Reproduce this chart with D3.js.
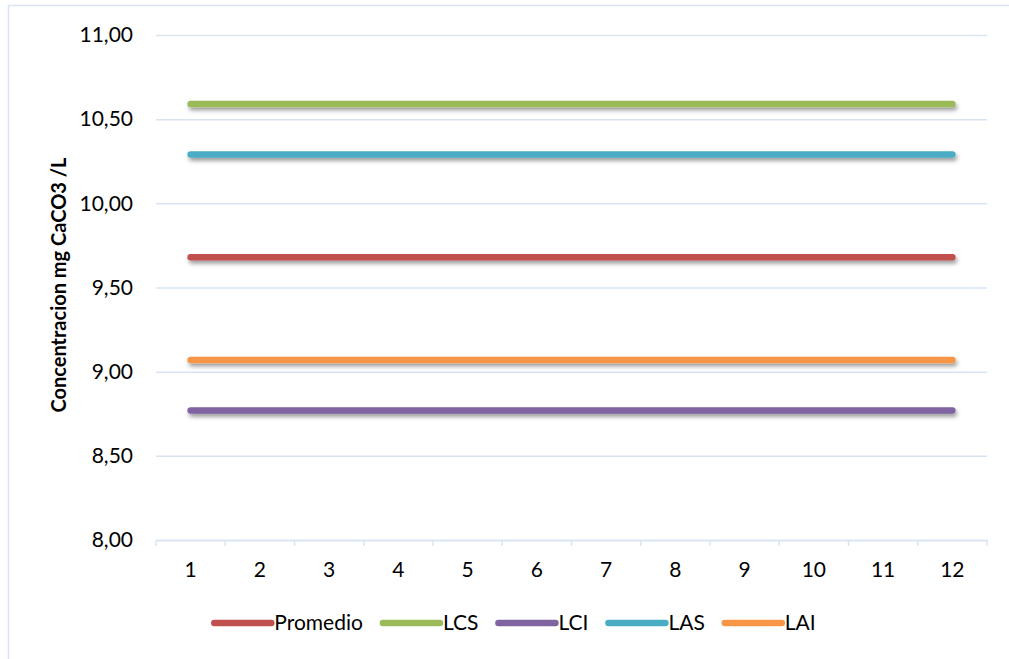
<!DOCTYPE html>
<html>
<head>
<meta charset="utf-8">
<script src="https://cdn.jsdelivr.net/npm/d3@7"></script>
<style>
  html, body { margin: 0; padding: 0; background: #fff; }
  svg { display: block; }
  text { font-family: Lato, "Open Sans", sans-serif; fill: #000; }
</style>
</head>
<body>
<svg id="chart" width="1009" height="659"></svg>
<script>
// Control-chart limits for each of the 12 samples
const categories = [1, 2, 3, 4, 5, 6, 7, 8, 9, 10, 11, 12];
const promedio = [9.68, 9.68, 9.68, 9.68, 9.68, 9.68, 9.68, 9.68, 9.68, 9.68, 9.68, 9.68];
const lcs      = [10.59, 10.59, 10.59, 10.59, 10.59, 10.59, 10.59, 10.59, 10.59, 10.59, 10.59, 10.59];
const lci      = [8.77, 8.77, 8.77, 8.77, 8.77, 8.77, 8.77, 8.77, 8.77, 8.77, 8.77, 8.77];
const las      = [10.29, 10.29, 10.29, 10.29, 10.29, 10.29, 10.29, 10.29, 10.29, 10.29, 10.29, 10.29];
const lai      = [9.07, 9.07, 9.07, 9.07, 9.07, 9.07, 9.07, 9.07, 9.07, 9.07, 9.07, 9.07];
const yTicks   = [8.0, 8.5, 9.0, 9.5, 10.0, 10.5, 11.0];
const seriesNames  = ["Promedio", "LCS", "LCI", "LAS", "LAI"];
const seriesColors = ["#c0504d", "#9bbb59", "#8064a2", "#4bacc6", "#f79646"];
const yTitle = "Concentracion mg CaCO3 /L";

const series = [promedio, lcs, lci, las, lai].map((values, i) => ({
  name: seriesNames[i], color: seriesColors[i], values
}));

const svg = d3.select("#chart");
const W = 1009, H = 659;
const plot = { left: 156, right: 987, top: 35, bottom: 540 };
const gridColor = "#d9e4f3";

// outer chart frame
svg.append("rect")
  .attr("x", 8.5).attr("y", 5.5)
  .attr("width", W + 10).attr("height", H + 10)
  .attr("fill", "none").attr("stroke", gridColor).attr("stroke-width", 1.5);

// soft drop shadow under the series lines (user-space region: the lines are flat)
const defs = svg.append("defs");
defs.append("filter").attr("id", "shadow")
  .attr("filterUnits", "userSpaceOnUse")
  .attr("x", 0).attr("y", 0).attr("width", W).attr("height", H)
  .append("feDropShadow")
  .attr("dx", 1.5).attr("dy", 3).attr("stdDeviation", 2)
  .attr("flood-color", "#000").attr("flood-opacity", 0.4);

const x = d3.scaleBand().domain(categories).range([plot.left, plot.right]);
const y = d3.scaleLinear().domain([8, 11]).range([plot.bottom, plot.top]);
const fmt = v => d3.format(".2f")(v).replace(".", ",");

// horizontal gridlines + y tick labels
const yAxis = d3.axisLeft(y).tickValues(yTicks).tickFormat(fmt)
  .tickSize(-(plot.right - plot.left)).tickPadding(23);
const gy = svg.append("g").attr("transform", `translate(${plot.left},0)`).call(yAxis);
gy.select(".domain").remove();
gy.selectAll(".tick line").attr("stroke", gridColor).attr("stroke-width", 1.5);
gy.selectAll(".tick text").style("font-size", "21px").attr("fill", "#000");

// category axis with tick marks between categories
const gx = svg.append("g").attr("transform", `translate(0,${plot.bottom})`)
  .call(d3.axisBottom(x).tickSize(0).tickPadding(22));
gx.select(".domain").attr("stroke", gridColor).attr("stroke-width", 1.5);
gx.selectAll(".tick text").style("font-size", "21px").attr("fill", "#000");
const bounds = categories.map(c => x(c)).concat([x(categories[categories.length - 1]) + x.bandwidth()]);
gx.selectAll("line.sep").data(bounds).join("line").attr("class", "sep")
  .attr("x1", d => d).attr("x2", d => d).attr("y1", 0).attr("y2", 6)
  .attr("stroke", gridColor).attr("stroke-width", 1.5);

// y axis title
svg.append("text")
  .attr("transform", "translate(66,285) rotate(-90)")
  .attr("text-anchor", "middle")
  .style("font-size", "20px").style("font-weight", "bold")
  .text(yTitle);

// series lines
const line = d3.line()
  .x((d, i) => x(categories[i]) + x.bandwidth() / 2)
  .y(d => y(d));
svg.append("g").selectAll("path").data(series).join("path")
  .attr("d", d => line(d.values))
  .attr("fill", "none").attr("stroke", d => d.color)
  .attr("stroke-width", 6.5).attr("stroke-linecap", "round")
  .attr("filter", "url(#shadow)");

// legend, centred below the axis
const legendY = 623, swatch = 57, textGap = 3, itemGap = 20;
const lg = svg.append("g");
const items = lg.selectAll("g").data(series).join("g");
items.append("line")
  .attr("x1", 0).attr("x2", swatch).attr("y1", 0).attr("y2", 0)
  .attr("stroke", d => d.color).attr("stroke-width", 6.5).attr("stroke-linecap", "round");
items.append("text")
  .attr("x", swatch + textGap).attr("dy", "0.35em")
  .style("font-size", "21px").text(d => d.name);
let cx = 0;
items.each(function() {
  const w = this.querySelector("text").getComputedTextLength();
  d3.select(this).attr("transform", `translate(${cx},${legendY})`);
  cx += swatch + textGap + w + itemGap;
});
const legendWidth = cx - itemGap;
lg.attr("transform", `translate(${515 - legendWidth / 2},0)`);
</script>
</body>
</html>
